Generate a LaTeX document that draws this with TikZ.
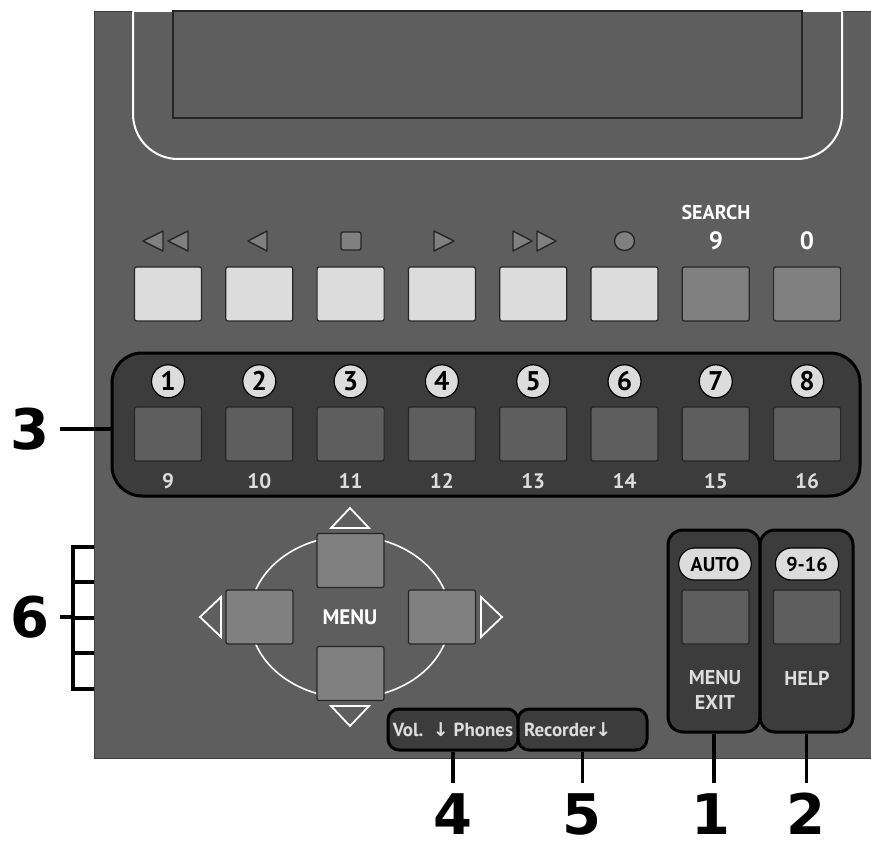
\documentclass[tikz,border=0pt]{standalone}
\usepackage{fontspec}
\setmainfont{PT Sans}
\newfontfamily\calloutfont{DejaVu Sans}
\usetikzlibrary{positioning}
\definecolor{panelgray}{HTML}{5E5E5E}
\definecolor{keylight}{HTML}{DCDCDC}
\definecolor{keymid}{HTML}{808080}
\definecolor{keydark}{HTML}{5E5E5E}
\definecolor{groupgray}{HTML}{3C3C3C}
\definecolor{txtlight}{HTML}{DDDDDD}

\begin{document}
\begin{tikzpicture}[
  x=1pt,y=-1pt,
  key/.style={draw=black!85,line width=1.2pt,rounded corners=2pt,minimum width=67pt,minimum height=54pt,inner sep=0pt},
  lightkey/.style={key,fill=keylight},
  midkey/.style={key,fill=keymid},
  darkkey/.style={key,fill=keydark},
  group/.style={draw=black,line width=3pt,fill=groupgray,inner sep=0pt},
  chan/.style={circle,draw=black,line width=1.2pt,fill=keylight,minimum size=33pt,inner sep=0pt,font=\bfseries\fontsize{27}{27}\selectfont},
  pill/.style={draw=black,line width=1.2pt,fill=keylight,rounded corners=16pt,minimum height=32pt,inner xsep=12pt,font=\bfseries\fontsize{20}{20}\selectfont},
  symb/.style={draw=black!85,fill=keymid,line width=1.4pt,line join=round},
  wtri/.style={draw=white,line width=1.8pt},
  wtxt/.style={text=white,inner sep=0pt,font=\bfseries\fontsize{21}{21}\selectfont},
  ltxt/.style={text=txtlight,inner sep=0pt,align=center,font=\bfseries\fontsize{20}{25}\selectfont},
  smalltxt/.style={text=txtlight,font=\bfseries\fontsize{19}{19}\selectfont},
  callout/.style={line width=3.2pt},
  calllbl/.style={inner sep=0pt,font=\calloutfont\bfseries\fontsize{56}{56}\selectfont}
]
\useasboundingbox (0,0) rectangle (871,848);
\fill[panelgray] (94,11.5) rectangle (880,758);
\draw[black!75,line width=1pt] (880,11.5) -- (94,11.5) -- (94,758) -- (880,758);

\draw[white,line width=2pt] (133,11.5) -- (842,11.5);
\draw[white,line width=2pt,rounded corners=45pt] (133,11.5) -- (133,159) -- (842,159) -- (842,11.5);
\node[draw=black!85,line width=1.3pt,fill=panelgray,minimum width=629pt,minimum height=107pt,inner sep=0pt] (lcd) at (487.5,64.5) {};

\draw[symb] (143,241) -- (163,231) -- (163,251) -- cycle (168,241) -- (188,231) -- (188,251) -- cycle;
\draw[symb] (248,241) -- (267,231) -- (267,251) -- cycle;
\draw[symb,rounded corners=2pt] (341,232) rectangle (361,250);
\draw[symb] (434,231) -- (454,241) -- (434,251) -- cycle;
\draw[symb] (513,231) -- (532,241) -- (513,251) -- cycle (537,231) -- (556,241) -- (537,251) -- cycle;
\draw[symb] (624.5,241) ellipse [x radius=10, y radius=9.5];
\node[wtxt,font=\bfseries\fontsize{20}{20}\selectfont] (search) at (716,213) {SEARCH};
\node[wtxt,font=\bfseries\fontsize{25}{25}\selectfont] (nine) at (716,241) {9};
\node[wtxt,font=\bfseries\fontsize{25}{25}\selectfont] (zero) at (807,241) {0};

\node[lightkey] (rew) at (168,294) {};
\node[lightkey] (back) at (259.3,294) {};
\node[lightkey] (stop) at (350.6,294) {};
\node[lightkey] (play) at (441.9,294) {};
\node[lightkey] (ffwd) at (533.2,294) {};
\node[lightkey] (rec) at (624.5,294) {};
\node[midkey] (srch) at (715.8,294) {};
\node[midkey] (zkey) at (807.1,294) {};

\node[group,rounded corners=30pt,minimum width=748pt,minimum height=143pt] (chgroup) at (486,424.5) {};
\foreach \x [count=\i] in {168,259.3,350.6,441.9,533.2,624.5,715.8,807.1} {
  \node[darkkey] (ch\i) at (\x,434) {};
  \node[chan,above=8pt of ch\i] (cn\i) {\i};
  \node[smalltxt,inner sep=0pt,font=\bfseries\fontsize{21}{21}\selectfont,below=12pt of ch\i] (cs\i) {\number\numexpr\i+8\relax};
}

\draw[white,line width=1.6pt] (350,617) ellipse [x radius=100, y radius=81];
\node[midkey] (up) at (350.5,560.5) {};
\node[midkey] (down) at (350.5,673.5) {};
\node[midkey] (left) at (259.5,617) {};
\node[midkey] (right) at (442,617) {};
\node[wtxt] (menu) at (350,617) {MENU};
\draw[wtri] (331,528) -- (350,508) -- (369,528) -- cycle;
\draw[wtri] (331,706) -- (350,726) -- (369,706) -- cycle;
\draw[wtri] (221,597) -- (200,617) -- (221,637) -- cycle;
\draw[wtri] (481,597) -- (502,617) -- (481,637) -- cycle;

\node[group,rounded corners=15pt,minimum width=92pt,minimum height=202pt] (menuexit) at (714,631) {};
\node[group,rounded corners=15pt,minimum width=93pt,minimum height=202pt] (help) at (806.5,631) {};
\node[pill] (auto) at (715,564) {AUTO};
\node[pill,inner xsep=11pt] (range) at (807,564) {9-16};
\node[darkkey] (exitkey) at (715.5,617) {};
\node[darkkey] (helpkey) at (807,617) {};
\node[ltxt] (exittxt) at (715,690) {MENU\\EXIT};
\node[ltxt] (helptxt) at (807,678) {HELP};

\node[group,rounded corners=11pt,minimum width=130pt,minimum height=41pt,smalltxt] (vol) at (453,729.5) {Vol.\ \ {\calloutfont ↓}\ Phones};
\node[group,rounded corners=11pt,minimum width=129pt,minimum height=41pt,smalltxt,text width=117pt,align=left,inner xsep=6pt] (recorder) at (582.5,729.5) {Recorder{\calloutfont ↓}};

\node[calllbl] (l3) at (30,429) {3};
\node[calllbl] (l6) at (30,617) {6};
\node[calllbl] (l4) at (453,814) {4};
\node[calllbl] (l5) at (581.5,814) {5};
\node[calllbl] (l1) at (711,814) {1};
\node[calllbl] (l2) at (806,814) {2};
\coordinate (brk) at (73,617);

\draw[callout] (94,547) -| (73,689) -- (94,689);
\draw[callout] (73,582) -- (94,582) (73,618) -- (94,618) (73,653) -- (94,653);
\draw[callout,shorten <=10pt] (l3.east) -- (l3.east -| chgroup.west);
\draw[callout,shorten <=10pt] (l6.east) -- (brk);
\draw[callout,shorten >=10pt] (vol.south) -- (vol.south |- l4.north);
\draw[callout,shorten >=10pt] (recorder.south) -- (recorder.south |- l5.north);
\draw[callout,shorten >=10pt] (menuexit.south) -- (menuexit.south |- l1.north);
\draw[callout,shorten >=10pt] (help.south) -- (help.south |- l2.north);
\end{tikzpicture}
\end{document}
